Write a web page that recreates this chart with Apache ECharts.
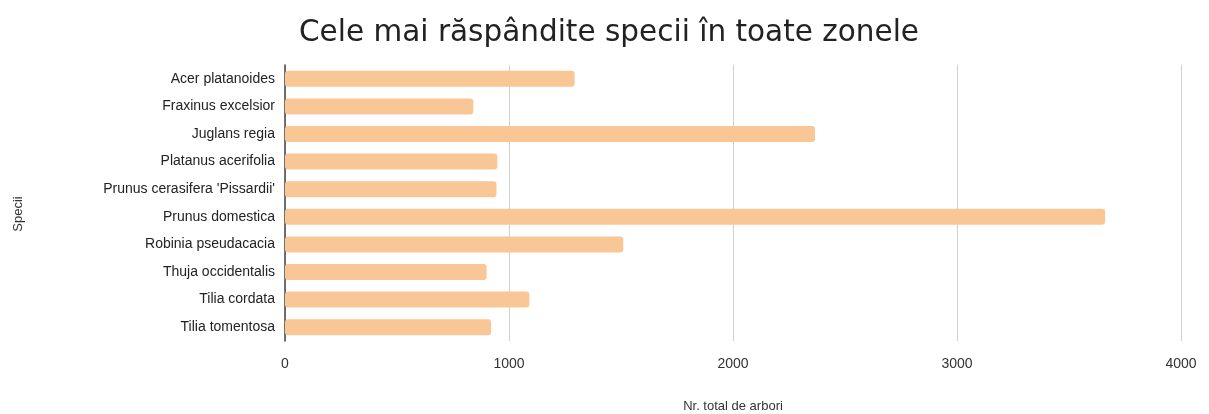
<!DOCTYPE html>
<html><head><meta charset="utf-8">
<script src="https://cdn.jsdelivr.net/npm/echarts@6/dist/echarts.min.js"></script>
<style>html,body{margin:0;padding:0;background:#fff}#c{width:1209px;height:414px}</style>
</head><body><div id="c"></div>
<script>
const categories = ["Acer platanoides","Fraxinus excelsior","Juglans regia","Platanus acerifolia","Prunus cerasifera 'Pissardii'","Prunus domestica","Robinia pseudacacia","Thuja occidentalis","Tilia cordata","Tilia tomentosa"];
const values = [1293, 841, 2366, 948, 944, 3661, 1510, 900, 1091, 920];
const xTicks = [0, 1000, 2000, 3000, 4000];

const chart = echarts.init(document.getElementById('c'));
chart.setOption({
  animation: false,
  title: {
    text: 'Cele mai răspândite specii în toate zonele',
    left: 604, top: 13, textAlign: 'center',
    textStyle: {fontFamily: 'DejaVu Sans', fontSize: 29.5, fontWeight: 'normal', color: '#222'}
  },
  grid: {left: 285, right: 28, top: 65, bottom: 73, containLabel: false, outerBoundsMode: 'none'},
  xAxis: {
    type: 'value', min: xTicks[0], max: xTicks[xTicks.length-1], interval: 1000,
    name: 'Nr. total de arbori', nameLocation: 'middle', nameGap: 59,
    nameTextStyle: {fontFamily: 'Liberation Sans', fontSize: 13, color: '#333'},
    axisLine: {show: false}, axisTick: {show: false},
    axisLabel: {fontFamily: 'Liberation Sans', fontSize: 14, color: '#333', margin: 16,
      formatter: v => String(v)},
    splitLine: {show: true, lineStyle: {color: '#d0d0d0', width: 1}}
  },
  yAxis: {
    type: 'category', data: categories, inverse: true,
    name: 'Specii', nameLocation: 'middle', nameGap: 260, nameRotate: 90,
    nameTextStyle: {fontFamily: 'Liberation Sans', fontSize: 13, color: '#333', padding: [0, 22, 0, 0]},
    axisLine: {show: true, lineStyle: {color: '#444', width: 1.5}},
    axisTick: {show: true, length: 0},
    axisLabel: {fontFamily: 'Liberation Sans', fontSize: 14, color: '#222', margin: 10}
  },
  series: [{
    type: 'bar', data: values, barWidth: 16,
    itemStyle: {color: '#f8c795', borderRadius: 3}
  }]
});
</script></body></html>
